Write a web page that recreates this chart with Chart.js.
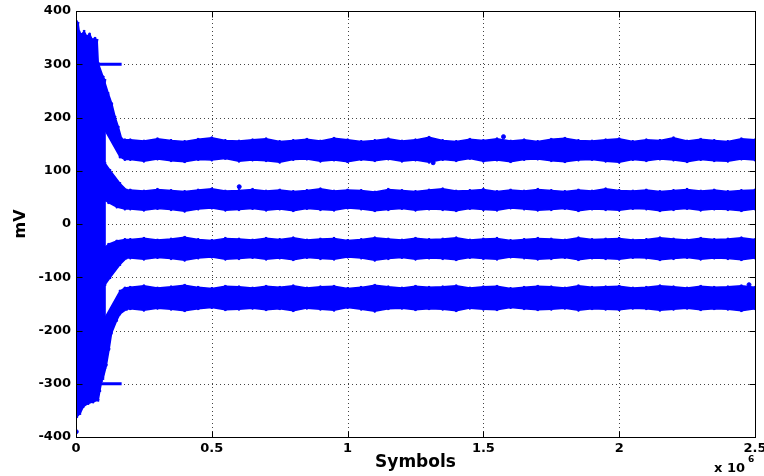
<!DOCTYPE html>
<html>
<head>
<meta charset="utf-8">
<script src="https://cdn.jsdelivr.net/npm/chart.js@4.4.1/dist/chart.umd.min.js"></script>
<style>
  html, body { margin: 0; padding: 0; background: #fff; }
  #wrap { width: 764px; height: 476px; position: relative; }
</style>
</head>
<body>
<div id="wrap"><canvas id="eyeChart"></canvas></div>
<script>
// x values in units of 1e6 symbols, y in mV
var xTicks = [0, 0.5, 1, 1.5, 2, 2.5];
var xTickLabels = ['0', '0.5', '1', '1.5', '2', '2.5'];
var yTicks = [-400, -300, -200, -100, 0, 100, 200, 300, 400];

// steady part of the four levels (edges of each cloud)
var steadyX = [0.2, 0.25, 0.3, 0.35, 0.4, 0.45, 0.5, 0.55, 0.6, 0.65,
               0.7, 0.75, 0.8, 0.85, 0.9, 0.95, 1.0, 1.05, 1.1, 1.15,
               1.2, 1.25, 1.3, 1.35, 1.4, 1.45, 1.5, 1.55, 1.6, 1.65,
               1.7, 1.75, 1.8, 1.85, 1.9, 1.95, 2.0, 2.05, 2.1, 2.15,
               2.2, 2.25, 2.3, 2.35, 2.4, 2.45, 2.5];
var b1Top = [158, 156, 160, 157, 155, 159, 162, 157, 156, 158,
             160, 155, 157, 159, 156, 161, 158, 155, 157, 160,
             156, 158, 163, 157, 155, 159, 157, 160, 156, 158,
             155, 159, 161, 157, 156, 158, 160, 155, 158, 157,
             162, 156, 159, 157, 155, 160, 158];
var b1Bot = [121, 118, 122, 119, 117, 121, 120, 123, 118, 120,
             119, 116, 121, 122, 118, 120, 117, 121, 119, 122,
             118, 120, 116, 121, 119, 123, 118, 120, 117, 121,
             122, 119, 117, 120, 121, 118, 116, 121, 119, 122,
             120, 117, 121, 119, 118, 122, 120];
var b2Top = [64, 62, 65, 63, 61, 64, 66, 62, 63, 65,
             62, 64, 61, 63, 66, 62, 64, 63, 60, 65,
             63, 61, 64, 66, 62, 63, 65, 61, 64, 62,
             65, 63, 61, 64, 62, 66, 63, 62, 64, 61,
             63, 65, 62, 64, 61, 63, 64];
var b2Bot = [28, 26, 29, 27, 24, 28, 30, 26, 27, 29,
             26, 28, 25, 29, 27, 26, 30, 28, 25, 27,
             29, 26, 28, 27, 25, 29, 27, 26, 30, 28,
             26, 27, 29, 25, 28, 27, 26, 29, 28, 25,
             27, 29, 26, 28, 27, 25, 28];
var b3Top = [-29, -27, -30, -28, -25, -29, -31, -27, -28, -30,
             -27, -29, -26, -30, -28, -27, -31, -29, -26, -28,
             -30, -27, -29, -28, -26, -30, -28, -27, -31, -29,
             -27, -28, -30, -26, -29, -28, -27, -30, -29, -26,
             -28, -30, -27, -29, -28, -26, -29];
var b3Bot = [-64, -66, -63, -65, -68, -64, -62, -66, -65, -63,
             -66, -64, -67, -63, -65, -66, -62, -64, -68, -65,
             -63, -66, -64, -65, -67, -63, -65, -66, -62, -64,
             -66, -65, -63, -67, -64, -65, -66, -63, -64, -67,
             -65, -63, -66, -64, -65, -67, -64];
var b4Top = [-119, -116, -120, -118, -115, -119, -121, -117, -118, -120,
             -117, -119, -116, -120, -118, -117, -121, -119, -115, -118,
             -120, -117, -119, -118, -116, -120, -118, -117, -121, -119,
             -117, -118, -120, -116, -119, -118, -117, -120, -119, -116,
             -118, -120, -117, -119, -118, -116, -119];
var b4Bot = [-159, -162, -158, -160, -163, -159, -157, -161, -160, -158,
             -161, -159, -163, -158, -160, -162, -157, -160, -164, -159,
             -158, -161, -159, -160, -163, -158, -160, -161, -157, -159,
             -161, -160, -158, -162, -159, -160, -161, -158, -159, -162,
             -160, -158, -161, -159, -160, -163, -159];

// start-up transient
var blobTopX = [0, 0.003, 0.008, 0.012, 0.02, 0.03, 0.04, 0.05, 0.06, 0.07, 0.078, 0.082, 0.1, 0.107];
var blobTopY = [365, 380, 377, 361, 356, 362, 352, 357, 346, 349, 345, 302, 276, 270];
var blobBotX = [0, 0.003, 0.015, 0.027, 0.045, 0.063, 0.082, 0.088, 0.095, 0.107];
var blobBotY = [-360, -362, -356, -343, -337, -334, -331, -313, -294, -270];

var b1OuterX = [0.100, 0.119, 0.132, 0.144, 0.156, 0.168, 0.180];
var b1OuterY = [276, 245, 226, 201, 182, 160, 158];
var b1InnerX = [0.100, 0.107, 0.162, 0.180];
var b1InnerY = [176, 176, 126, 121];

var b2UpX = [0.100, 0.107, 0.125, 0.162, 0.186];
var b2UpY = [114, 114, 101, 76, 64];
var b2LoX = [0.100, 0.107, 0.120, 0.150, 0.180];
var b2LoY = [45, 45, 40, 32, 28];

var b3UpX = [0.100, 0.107, 0.120, 0.150, 0.180];
var b3UpY = [-45, -44, -38, -32, -29];
var b3LoX = [0.100, 0.107, 0.125, 0.162, 0.186];
var b3LoY = [-114, -114, -101, -76, -64];

var b4InnerX = [0.100, 0.107, 0.162, 0.180];
var b4InnerY = [-176, -176, -126, -120];
var b4OuterX = [0.100, 0.112, 0.122, 0.131, 0.150, 0.162, 0.187];
var b4OuterY = [-290, -265, -235, -205, -181, -169, -160];

// short runs at +-300 mV
var railX = [0, 0.168];
var railTop = [300, 300];
var railBot = [-300, -300];

// a few stray points
var strayX = [0.001, 0.601, 1.315, 1.574, 2.478];
var strayY = [-390, 70, 115, 164, -114];

var BLUE = '#0000ff';
var FONT = 'DejaVu Sans';

function edge(xs, ys) {
    return xs.map(function(x, i) { return { x: x, y: ys[i] }; });
}
function shape(upX, upY, loX, loY) {
    return edge(upX, upY).concat(edge(loX, loY).reverse());
}
function area(data) {
    return {
        data: data,
        fill: 'shape',
        backgroundColor: BLUE,
        borderColor: BLUE,
        borderWidth: 1.5,
        pointRadius: 1.4,
        pointStyle: 'crossRot',
        pointBorderWidth: 1.5,
        pointBorderColor: BLUE,
        tension: 0
    };
}
function rail(ys) {
    return {
        data: edge(railX, ys),
        fill: false,
        borderColor: BLUE,
        borderWidth: 3,
        pointRadius: 0
    };
}

var datasets = [
    area(shape(blobTopX, blobTopY, blobBotX, blobBotY)),
    area(shape(b1OuterX.concat(steadyX), b1OuterY.concat(b1Top), b1InnerX.concat(steadyX), b1InnerY.concat(b1Bot))),
    area(shape(b2UpX.concat(steadyX), b2UpY.concat(b2Top), b2LoX.concat(steadyX), b2LoY.concat(b2Bot))),
    area(shape(b3UpX.concat(steadyX), b3UpY.concat(b3Top), b3LoX.concat(steadyX), b3LoY.concat(b3Bot))),
    area(shape(b4InnerX.concat(steadyX), b4InnerY.concat(b4Top), b4OuterX.concat(steadyX), b4OuterY.concat(b4Bot))),
    rail(railTop),
    rail(railBot),
    {
        data: edge(strayX, strayY),
        showLine: false,
        pointRadius: 2,
        pointBackgroundColor: BLUE,
        pointBorderColor: BLUE
    }
];

// dotted grid, box, inward ticks and labels (MATLAB look)
var frame = {
    id: 'frame',
    beforeDatasetsDraw: function(chart) {
        var ctx = chart.ctx, a = chart.chartArea;
        var sx = chart.scales.x, sy = chart.scales.y;
        ctx.save();
        ctx.strokeStyle = '#444';
        ctx.lineWidth = 1;
        ctx.setLineDash([1, 3]);
        xTicks.forEach(function(v) {
            var px = Math.round(sx.getPixelForValue(v)) + 0.5;
            ctx.beginPath(); ctx.moveTo(px, a.top); ctx.lineTo(px, a.bottom); ctx.stroke();
        });
        yTicks.forEach(function(v) {
            var py = Math.round(sy.getPixelForValue(v)) + 0.5;
            ctx.beginPath(); ctx.moveTo(a.left, py); ctx.lineTo(a.right, py); ctx.stroke();
        });
        ctx.restore();
    },
    afterDraw: function(chart) {
        var ctx = chart.ctx, a = chart.chartArea;
        var sx = chart.scales.x, sy = chart.scales.y;
        var L = Math.round(a.left) + 0.5, R = Math.round(a.right) + 0.5;
        var T = Math.round(a.top) + 0.5, B = Math.round(a.bottom) + 0.5;
        ctx.save();
        ctx.strokeStyle = '#000';
        ctx.lineWidth = 1;
        ctx.strokeRect(L, T, R - L, B - T);
        var tl = 6;
        ctx.beginPath();
        xTicks.forEach(function(v) {
            var px = Math.round(sx.getPixelForValue(v)) + 0.5;
            ctx.moveTo(px, B); ctx.lineTo(px, B - tl);
            ctx.moveTo(px, T); ctx.lineTo(px, T + tl);
        });
        yTicks.forEach(function(v) {
            var py = Math.round(sy.getPixelForValue(v)) + 0.5;
            ctx.moveTo(L, py); ctx.lineTo(L + tl, py);
            ctx.moveTo(R, py); ctx.lineTo(R - tl, py);
        });
        ctx.stroke();

        ctx.fillStyle = '#000';
        ctx.font = 'bold 17px "' + FONT + '"';
        ctx.textAlign = 'center';
        ctx.textBaseline = 'middle';
        ctx.fillText('Symbols', (a.left + a.right) / 2, 463);
        ctx.save();
        ctx.translate(21, (a.top + a.bottom) / 2);
        ctx.rotate(-Math.PI / 2);
        ctx.font = 'bold 16px "' + FONT + '"';
        ctx.fillText('mV', 0, 0);
        ctx.restore();

        ctx.textAlign = 'left';
        ctx.textBaseline = 'alphabetic';
        ctx.font = 'bold 13px "' + FONT + '"';
        ctx.fillText('x 10', 714, 472);
        ctx.font = 'bold 9px "' + FONT + '"';
        ctx.fillText('6', 748, 462);
        ctx.restore();
    }
};

new Chart(document.getElementById('eyeChart'), {
    type: 'line',
    data: { datasets: datasets },
    options: {
        responsive: true,
        maintainAspectRatio: false,
        animation: false,
        events: [],
        layout: { padding: { left: 0, top: 11, right: 9, bottom: 0 } },
        plugins: { legend: { display: false }, tooltip: { enabled: false } },
        scales: {
            x: {
                type: 'linear',
                min: 0,
                max: 2.5,
                grid: { display: false, drawTicks: false },
                border: { display: false },
                afterBuildTicks: function(scale) {
                    scale.ticks = xTicks.map(function(v) { return { value: v }; });
                },
                afterFit: function(scale) {
                    scale.height = 39;
                    scale.paddingLeft = 0;
                    scale.paddingRight = 0;
                },
                ticks: {
                    autoSkip: false,
                    maxRotation: 0,
                    padding: 4,
                    color: '#000',
                    font: { family: FONT, size: 13, weight: 'bold' },
                    callback: function(v) { return xTickLabels[xTicks.indexOf(v)]; }
                }
            },
            y: {
                type: 'linear',
                min: -400,
                max: 400,
                grid: { display: false, drawTicks: false },
                border: { display: false },
                afterBuildTicks: function(scale) {
                    scale.ticks = yTicks.map(function(v) { return { value: v }; });
                },
                afterFit: function(scale) {
                    scale.width = 76;
                    scale.paddingTop = 0;
                    scale.paddingBottom = 0;
                },
                ticks: {
                    autoSkip: false,
                    padding: 5,
                    color: '#000',
                    font: { family: FONT, size: 13, weight: 'bold' },
                    callback: function(v) { return String(v); }
                }
            }
        }
    },
    plugins: [frame]
});
</script>
</body>
</html>
